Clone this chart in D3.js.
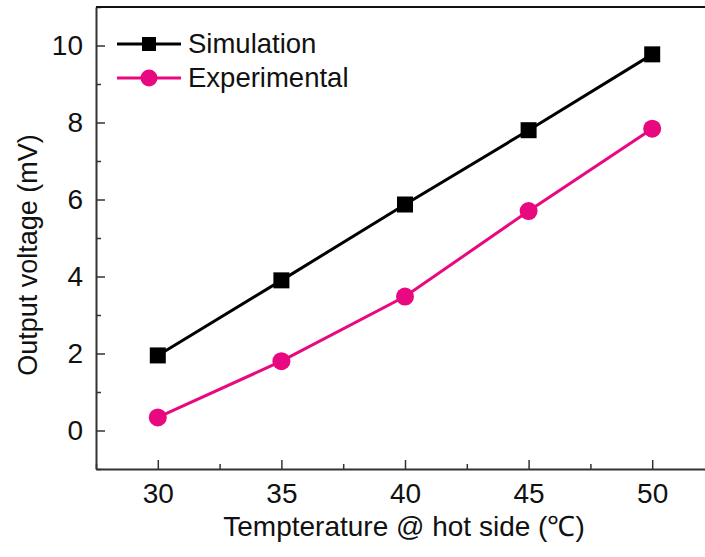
<!DOCTYPE html>
<html>
<head>
<meta charset="utf-8">
<script src="https://cdn.jsdelivr.net/npm/d3@7"></script>
<style>
  body { margin: 0; background: #fff; }
  text { font-family: "Liberation Sans", Arial, sans-serif; }
</style>
</head>
<body>
<svg id="chart" width="705" height="557"></svg>
<script>
// data
var temps = [30, 35, 40, 45, 50]
var simulation = [1.95, 3.9, 5.87, 7.8, 9.77]
var experimental = [0.34, 1.8, 3.48, 5.7, 7.84]
var xTicks = [30, 35, 40, 45, 50]
var yTicks = [0, 2, 4, 6, 8, 10]
var seriesNames = ["Simulation", "Experimental"]

var pink = "#e8087f"
var fontFam = "Liberation Sans, Arial, sans-serif"
var svg = d3.select("#chart")

var scaleX = d3.scaleLinear().domain([27.5, 52.5]).range([96, 714])
var scaleY = d3.scaleLinear().domain([-1, 11]).range([469, 7])

var g = svg.append("g")

// axes with inward ticks
var xAxis = d3.axisBottom(scaleX)
  .tickValues(d3.range(27.5, 52.6, 2.5))
  .tickSizeInner(-5).tickSizeOuter(0)
  .tickFormat(d => xTicks.includes(d) ? d : "")
var gx = g.append("g").attr("transform", "translate(0,469)").call(xAxis)
gx.selectAll(".tick line").filter(d => xTicks.includes(d)).attr("y2", -9)

var yAxis = d3.axisLeft(scaleY)
  .tickValues(d3.range(-1, 11.01, 1))
  .tickSizeInner(-5).tickSizeOuter(0)
  .tickFormat(d => yTicks.includes(d) ? d : "")
var gy = g.append("g").attr("transform", "translate(96,0)").call(yAxis)
gy.selectAll(".tick line").filter(d => yTicks.includes(d)).attr("x2", 9)

svg.selectAll(".domain").attr("stroke", "#333").attr("stroke-width", 2)
svg.selectAll(".tick line").attr("stroke", "#333").attr("stroke-width", 1.5)
gx.selectAll(".tick text").attr("font-size", 28).attr("fill", "#111")
  .attr("y", 14).attr("font-family", fontFam)
gy.selectAll(".tick text").attr("font-size", 28).attr("fill", "#111")
  .attr("x", -13).attr("font-family", fontFam)

// top frame line
g.append("line").attr("x1", 96).attr("x2", 705).attr("y1", 7).attr("y2", 7)
  .attr("stroke", "#111").attr("stroke-width", 2)

var line = d3.line().x(d => scaleX(d[0])).y(d => scaleY(d[1]))

var simData = temps.map((t, i) => [t, simulation[i]])
var expData = temps.map((t, i) => [t, experimental[i]])

g.append("path").datum(simData).attr("d", line)
  .attr("fill", "none").attr("stroke", "#000").attr("stroke-width", 3)
g.selectAll(".sq").data(simData).enter().append("rect")
  .attr("x", d => scaleX(d[0]) - 8).attr("y", d => scaleY(d[1]) - 8)
  .attr("width", 16).attr("height", 16).attr("fill", "#000")

g.append("path").datum(expData).attr("d", line)
  .attr("fill", "none").attr("stroke", pink).attr("stroke-width", 3)
g.selectAll(".dot").data(expData).enter().append("circle")
  .attr("cx", d => scaleX(d[0])).attr("cy", d => scaleY(d[1]))
  .attr("r", 9).attr("fill", pink)

// legend
var leg = g.append("g")
leg.append("line").attr("x1", 117).attr("x2", 181).attr("y1", 44).attr("y2", 44)
  .attr("stroke", "#000").attr("stroke-width", 3)
leg.append("rect").attr("x", 142).attr("y", 37).attr("width", 14).attr("height", 14).attr("fill", "#000")
leg.append("line").attr("x1", 117).attr("x2", 181).attr("y1", 78).attr("y2", 78)
  .attr("stroke", pink).attr("stroke-width", 3)
leg.append("circle").attr("cx", 149).attr("cy", 78).attr("r", 8.5).attr("fill", pink)
leg.selectAll("text").data(seriesNames).enter().append("text")
  .attr("x", 188).attr("y", (d, i) => 53 + i * 34)
  .attr("font-size", 27.5).attr("fill", "#111").text(d => d)

// axis titles
svg.append("text")
  .attr("transform", "translate(37,255) rotate(-90)")
  .attr("text-anchor", "middle").attr("font-size", 27).attr("fill", "#111")
  .text("Output voltage (mV)")
svg.append("text")
  .attr("x", 404).attr("y", 536)
  .attr("text-anchor", "middle").attr("font-size", 28).attr("fill", "#111")
  .text("Tempterature @ hot side (℃)")
</script>
</body>
</html>
